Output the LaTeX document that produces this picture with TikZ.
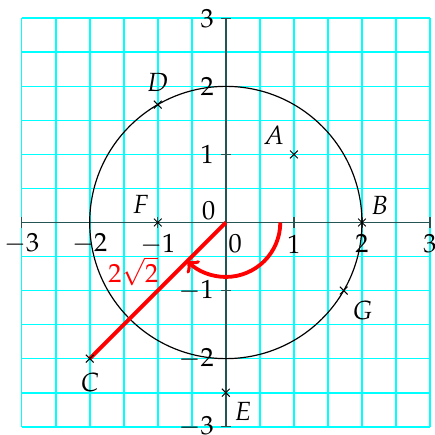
\documentclass[tikz,border=0pt]{standalone}
\usepackage{mathpazo}
\usetikzlibrary{shapes.misc}
\definecolor{gridcyan}{RGB}{0,255,255}
\definecolor{axiscol}{RGB}{35,85,85}
\definecolor{pured}{RGB}{255,0,0}
\begin{document}
\begin{tikzpicture}[x=1cm,y=1cm,
  gridline/.style={draw=gridcyan, line width=0.7pt},
  axisline/.style={draw=axiscol, line width=0.7pt},
  tickmark/.style={draw=axiscol, line width=0.6pt},
  circ/.style={black, line width=0.5pt},
  crossmark/.style={cross out, draw=black, line width=0.4pt, minimum size=0.1cm, inner sep=0pt},
  lbl/.style={font=\fontsize{11}{13}\selectfont, inner sep=0pt, anchor=center},
  ylbl/.style={font=\fontsize{11}{13}\selectfont, inner sep=0pt, anchor=east},
  redline/.style={pured, line width=1.6pt}]
\useasboundingbox (-3.318,-3.122) rectangle (3.059,3.269);
% grid
\draw[gridline] (-3,-3) grid[step=0.5] (3,3);
% axes
\coordinate (xl) at (-3,0); \coordinate (xr) at (3,0);
\coordinate (yb) at (0,-3); \coordinate (yt) at (0,3);
\draw[axisline] (xl) -- (xr);
\draw[axisline] (yb) -- (yt);
\foreach \k in {-3,...,3} {
  \draw[tickmark] (\k,-0.075) -- (\k,0.075);
  \draw[tickmark] (-0.075,\k) -- (0.075,\k);
}
% tick labels x
\foreach \k in {-3,-2,-1,1,2,3} {
  \node[lbl] (xt\k) at (\k,-0.316) {$\k$};
}
\node[lbl] (xt0) at (0.136,-0.31) {$0$};
% tick labels y
\foreach \k in {-3,-2,-1,1,2,3} {
  \node[ylbl] (yt\k) at (-0.17,\k) {$\k$};
}
\node[lbl] (yt0) at (-0.25,0.17) {$0$};
% circle
\coordinate (O) at (0,0);
\draw[circ] (O) circle[radius=2];
% points
\coordinate (A) at (1,1);
\coordinate (B) at (2,0);
\coordinate (C) at (-2,-2);
\coordinate (D) at (-1,1.732);
\coordinate (E) at (0,-2.5);
\coordinate (F) at (-1,0);
\coordinate (G) at (1.732,-1);
% red segment and arc
\draw[redline] (O) -- (C);
\coordinate (arcstart) at (0.8,0);
\draw[redline, ->] (arcstart) arc[start angle=0, end angle=-135, radius=0.8];
\node[lbl, text=pured] (len) at (-1.36,-0.72) {$2\sqrt{2}$};
% crosses
\foreach \p in {A,B,C,D,E,F,G} {
  \node[crossmark] (m\p) at (\p) {};
}
% labels
\node[lbl] (lA) at (0.705,1.274) {$A$};
\node[lbl] (lB) at (2.26,0.245) {$B$};
\node[lbl] (lC) at (-1.996,-2.35) {$C$};
\node[lbl] (lD) at (-1.0,2.06) {$D$};
\node[lbl] (lE) at (0.25,-2.77) {$E$};
\node[lbl] (lF) at (-1.25,0.27) {$F$};
\node[lbl] (lG) at (2.01,-1.29) {$G$};
\end{tikzpicture}
\end{document}
